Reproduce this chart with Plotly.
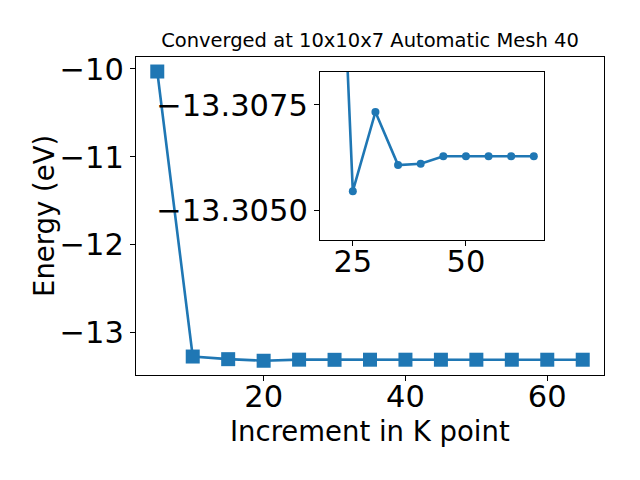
import plotly.graph_objects as go

# ---- data ----
kpoints = [5, 10, 15, 20, 25, 30, 35, 40, 45, 50, 55, 60, 65]
energy = [-10.03, -13.27, -13.30, -13.318, -13.30545, -13.30733, -13.30607,
          -13.30610, -13.30628, -13.30628, -13.30628, -13.30628, -13.30628]
inset_start = 3  # inset shows from k = 20 onward

main_xticks = [20, 40, 60]
main_yticks = [-13, -12, -11, -10]
inset_xticks = [25, 50]
inset_yticks = [-13.3075, -13.3050]

title_text = "Converged at 10x10x7 Automatic Mesh 40"
xlabel = "Increment in K point"
ylabel = "Energy (eV)"

color = "#1f77b4"
font = "DejaVu Sans"


def fmt(v, nd):
    s = f"{abs(v):.{nd}f}"
    return ("\u2212" + s) if v < 0 else s


fig = go.Figure()
fig.add_trace(go.Scatter(
    x=kpoints, y=energy, mode="lines+markers",
    line=dict(color=color, width=2.6),
    marker=dict(symbol="square", size=14, color=color),
    xaxis="x", yaxis="y", showlegend=False, cliponaxis=False,
))
fig.add_trace(go.Scatter(
    x=kpoints[inset_start:], y=energy[inset_start:], mode="lines+markers",
    line=dict(color=color, width=2.6),
    marker=dict(symbol="circle", size=8, color=color),
    xaxis="x2", yaxis="y2", showlegend=False,
))

# page layout (the page body adds an 8px offset)
OFF = 8
W, H = 640 - OFF, 480 - OFF
L, R, T, B = 136, 604, 57, 375          # plot box in page pixels
pw, ph = R - L, B - T

TICK = 30.5
LAB = 27.5

axis_common = dict(
    showgrid=False, zeroline=False, showline=True, mirror=True,
    linecolor="black", linewidth=1.1, ticks="outside", ticklen=5,
    tickwidth=1.1, tickcolor="black", automargin=False,
    tickfont=dict(family=font, size=TICK, color="black"),
)

fig.update_layout(
    width=W, height=H,
    margin=dict(l=L - OFF, r=640 - R, t=T - OFF, b=480 - B),
    paper_bgcolor="white", plot_bgcolor="white",
    font=dict(family=font, color="black"),
    title=dict(text=title_text, x=0.5, xref="paper", xanchor="center",
               y=1 - (41 - OFF - 1) / H, yref="container", yanchor="middle",
               font=dict(family=font, size=19.5, color="black")),
    xaxis=dict(domain=[0, 1], range=[2, 68], tickmode="array",
               tickvals=main_xticks, ticktext=[str(v) for v in main_xticks],
               ticklabelstandoff=-11, **axis_common),
    yaxis=dict(domain=[0, 1], range=[-13.48, -9.865], tickmode="array",
               tickvals=main_yticks, ticktext=[fmt(v, 0) for v in main_yticks],
               **axis_common),
    xaxis2=dict(domain=[(320 - L) / pw, (544 - L) / pw], anchor="y2",
                range=[17.75, 67.25], tickmode="array",
                tickvals=inset_xticks, ticktext=[str(v) for v in inset_xticks],
                ticklabelstandoff=-11, **axis_common),
    yaxis2=dict(domain=[1 - (240 - T) / ph, 1 - (72 - T) / ph], anchor="x2",
                range=[-13.30429, -13.30828], tickmode="array",
                tickvals=inset_yticks, ticktext=[fmt(v, 4) for v in inset_yticks],
                **axis_common),
    annotations=[
        dict(text=xlabel, xref="paper", yref="paper", x=0.5,
             y=(B - 431) / ph, xanchor="center", yanchor="middle",
             showarrow=False, font=dict(family=font, size=LAB, color="black")),
        dict(text=ylabel, xref="paper", yref="paper",
             x=(44 - L) / pw, y=0.5, xanchor="center", yanchor="middle",
             textangle=-90, showarrow=False,
             font=dict(family=font, size=LAB, color="black")),
    ],
)

fig.write_html("out.html")
